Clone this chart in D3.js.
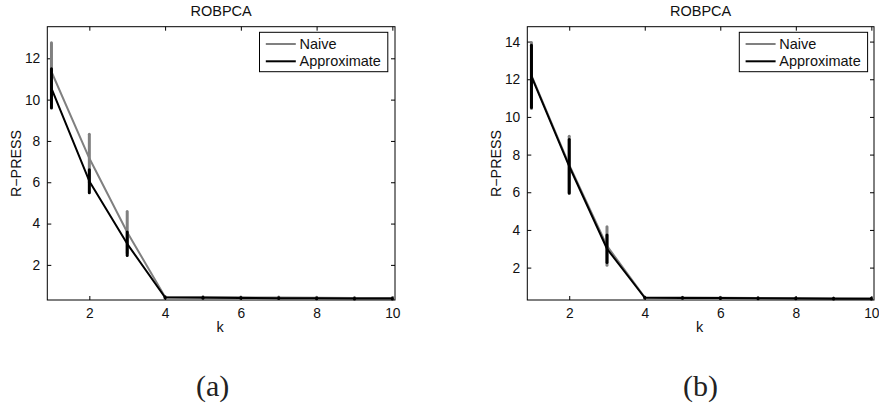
<!DOCTYPE html>
<html>
<head>
<meta charset="utf-8">
<script src="https://cdn.jsdelivr.net/npm/d3@7"></script>
<style>
  html, body { margin: 0; padding: 0; background: #fff; }
  svg { display: block; }
</style>
</head>
<body>
<svg id="chart" width="879" height="407"></svg>
<script>
// ---- data ----
const ks = [1, 2, 3, 4, 5, 6, 7, 8, 9, 10];
const xTicks = [2, 4, 6, 8, 10];

const aNaive      = [11.35, 7.16, 3.58, 0.45, 0.44, 0.43, 0.42, 0.41, 0.40, 0.40];
const aNaiveErr   = [1.40, 1.16, 1.00, 0.02, 0.02, 0.02, 0.02, 0.02, 0.02, 0.02];
const aApprox     = [10.55, 6.05, 3.02, 0.42, 0.41, 0.40, 0.39, 0.38, 0.37, 0.37];
const aApproxErr  = [0.95, 0.56, 0.57, 0.02, 0.02, 0.02, 0.02, 0.02, 0.02, 0.02];
const aYTicks     = [2, 4, 6, 8, 10, 12];

const bNaive      = [12.20, 7.45, 3.15, 0.42, 0.41, 0.40, 0.39, 0.38, 0.37, 0.36];
const bNaiveErr   = [1.75, 1.52, 1.02, 0.02, 0.02, 0.02, 0.02, 0.02, 0.02, 0.02];
const bApprox     = [12.15, 7.38, 3.00, 0.40, 0.39, 0.38, 0.37, 0.36, 0.35, 0.35];
const bApproxErr  = [1.65, 1.42, 0.73, 0.02, 0.02, 0.02, 0.02, 0.02, 0.02, 0.02];
const bYTicks     = [2, 4, 6, 8, 10, 12, 14];

const seriesNames = ["Naive", "Approximate"];
const seriesColors = ["#808080", "#000000"];
const titleText = "ROBPCA";
const xLabelText = "k";
const yLabelText = "R\u2212PRESS";
const captions = ["(a)", "(b)"];

// ---- layout ----
const SANS = '"Liberation Sans", Arial, sans-serif';
const SERIF = '"Liberation Serif", "Times New Roman", serif';
const panels = [
  { x0: 47.3, x1: 395, y0: 26.7, y1: 300, ydom: [0.30, 13.53], yticks: aYTicks,
    series: [[aNaive, aNaiveErr], [aApprox, aApproxErr]], ylabX: 20.5, legX: 259.5, cap: captions[0], capX: 212.7 },
  { x0: 527.3, x1: 874, y0: 26.7, y1: 300, ydom: [0.28, 14.79], yticks: bYTicks,
    series: [[bNaive, bNaiveErr], [bApprox, bApproxErr]], ylabX: 500.5, legX: 739.3, cap: captions[1], capX: 700.5 }
];

const svg = d3.select("#chart");

panels.forEach(p => {
  const x = d3.scaleLinear().domain([0.89, 10.07]).range([p.x0, p.x1]);
  const y = d3.scaleLinear().domain(p.ydom).range([p.y1, p.y0]);
  const g = svg.append("g");
  const tl = 4;

  // ticks (inside, all 4 sides)
  g.append("g").attr("transform", `translate(0,${p.y1})`)
    .call(d3.axisBottom(x).tickValues(xTicks).tickSize(-tl).tickPadding(8).tickFormat(d3.format("d")))
    .call(s => s.select(".domain").remove());
  g.append("g").attr("transform", `translate(0,${p.y0})`)
    .call(d3.axisTop(x).tickValues(xTicks).tickSize(-tl).tickFormat(""))
    .call(s => s.select(".domain").remove());
  g.append("g").attr("transform", `translate(${p.x0},0)`)
    .call(d3.axisLeft(y).tickValues(p.yticks).tickSize(-tl).tickPadding(7).tickFormat(d3.format("d")))
    .call(s => s.select(".domain").remove());
  g.append("g").attr("transform", `translate(${p.x1},0)`)
    .call(d3.axisRight(y).tickValues(p.yticks).tickSize(-tl).tickFormat(""))
    .call(s => s.select(".domain").remove());

  g.selectAll(".tick line").attr("stroke", "#000").attr("stroke-width", 1);
  g.selectAll(".tick text").style("font-size", "13.8px").attr("fill", "#111")
    .style("font-family", SANS);

  // series
  const line = d3.line().x((d, i) => x(ks[i])).y(d => y(d));
  p.series.forEach((s, si) => {
    const [vals, errs] = s;
    const col = seriesColors[si];
    g.append("path").datum(vals).attr("d", line)
      .attr("fill", "none").attr("stroke", col).attr("stroke-width", 2)
      .attr("stroke-linejoin", "round");
    g.selectAll(null).data(vals).enter().append("line")
      .attr("x1", (d, i) => x(ks[i])).attr("x2", (d, i) => x(ks[i]))
      .attr("y1", (d, i) => y(d + errs[i])).attr("y2", (d, i) => y(d - errs[i]))
      .attr("stroke", col).attr("stroke-width", 3).attr("stroke-linecap", "round");
  });

  // box
  g.append("rect").attr("x", p.x0).attr("y", p.y0)
    .attr("width", p.x1 - p.x0).attr("height", p.y1 - p.y0)
    .attr("fill", "none").attr("stroke", "#000").attr("stroke-width", 1);

  // title & labels
  const cx = (p.x0 + p.x1) / 2;
  g.append("text").attr("x", cx).attr("y", 15.5).attr("text-anchor", "middle")
    .style("font-family", SANS).style("font-size", "14.5px").attr("fill", "#111").text(titleText);
  g.append("text").attr("x", cx - 1).attr("y", 332).attr("text-anchor", "middle")
    .style("font-family", SANS).style("font-size", "14.5px").attr("fill", "#111").text(xLabelText);
  g.append("text").attr("transform", `translate(${p.ylabX},163.5) rotate(-90)`)
    .attr("text-anchor", "middle").style("font-family", SANS).style("font-size", "14.3px")
    .attr("fill", "#111").text(yLabelText);

  // legend
  const lw = 128.3, lh = 39.4, ly = 32.3;
  const leg = g.append("g").attr("transform", `translate(${p.legX},${ly})`);
  leg.append("rect").attr("width", lw).attr("height", lh)
    .attr("fill", "#fff").attr("stroke", "#000").attr("stroke-width", 1);
  seriesNames.forEach((n, i) => {
    const yy = 11.7 + i * 17.3;
    leg.append("line").attr("x1", 6.3).attr("x2", 36.3).attr("y1", yy).attr("y2", yy)
      .attr("stroke", seriesColors[i]).attr("stroke-width", 2);
    leg.append("text").attr("x", 40).attr("y", yy + 5.2)
      .style("font-family", SANS).style("font-size", "14.5px")
      .attr("fill", "#111").text(n);
  });

  // caption
  svg.append("text").attr("x", p.capX).attr("y", 396).attr("text-anchor", "middle")
    .style("font-family", SERIF).style("font-size", "30px").attr("fill", "#222").text(p.cap);
});
</script>
</body>
</html>
